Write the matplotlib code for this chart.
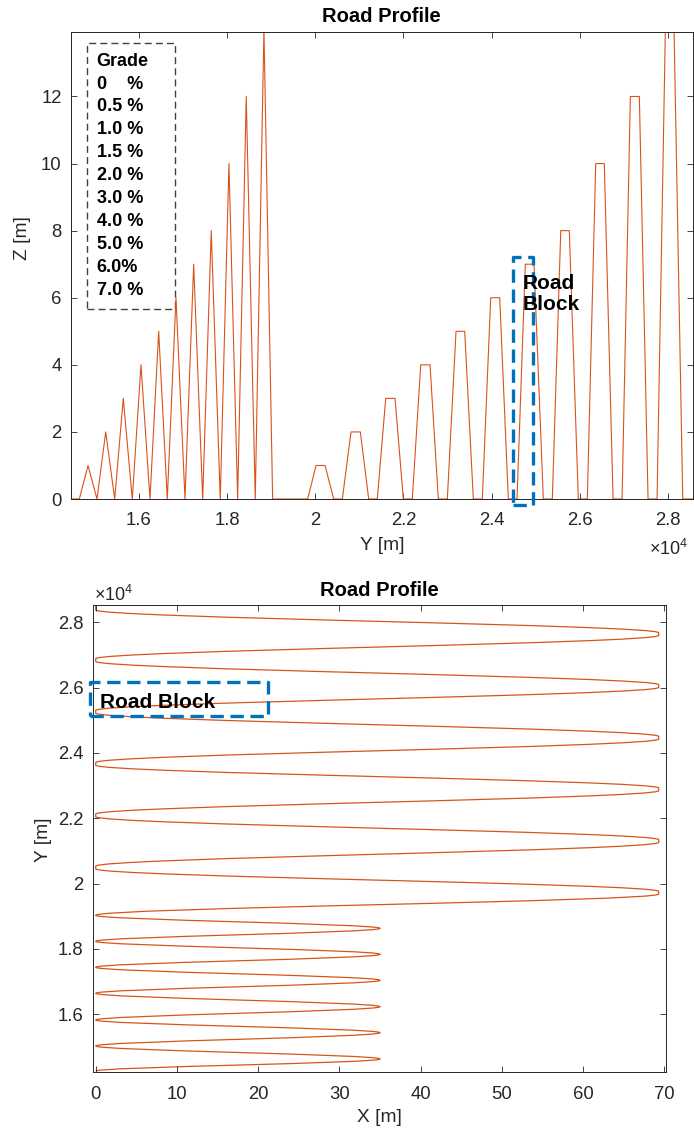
import matplotlib.pyplot as plt
from matplotlib.path import Path
from matplotlib.patches import PathPatch, Rectangle

plt.rcParams['font.family'] = ['Liberation Sans', 'DejaVu Sans']
plt.rcParams['mathtext.fontset'] = 'custom'
plt.rcParams['mathtext.rm'] = 'Liberation Sans'

ROAD = '#D95319'
BLUE = '#0072BD'
INK = '#262626'

# --- top plot: height profile along Y ---
profile_y = [14300, 14655, 14852, 15055, 15253, 15456, 15651, 15855, 16052, 16256,
             16453, 16648, 16845, 17049, 17246, 17450, 17644, 17848, 18045, 18242,
             18437, 18641, 18838, 19035,
             19830, 20018, 20222, 20419, 20614, 20811, 21022, 21212,
             21407, 21597, 21808, 21996, 22200, 22390, 22601, 22789,
             22993, 23190, 23387, 23582, 23786, 23976, 24180, 24375,
             24572, 24760, 24957, 25168, 25372, 25563, 25757, 25961,
             26165, 26355, 26550, 26748, 26952, 27140, 27344, 27541,
             27745, 27933, 28130, 28327, 28567]
profile_z = [0, 0, 1, 0, 2, 0, 3, 0, 4, 0,
             5, 0, 6, 0, 7, 0, 8, 0, 10, 0,
             12, 0, 14, 0,
             0, 1, 1, 0, 0, 2, 2, 0,
             0, 3, 3, 0, 0, 4, 4, 0,
             0, 5, 5, 0, 0, 6, 6, 0,
             0, 7, 7, 0, 0, 8, 8, 0,
             0, 10, 10, 0, 0, 12, 12, 0,
             0, 14, 14, 0, 0]

grade_labels = ['Grade', '0    %', '0.5 %', '1.0 %', '1.5 %', '2.0 %',
                '3.0 %', '4.0 %', '5.0 %', '6.0%', '7.0 %']

# --- bottom plot: road plan view, turning points ---
turn_x = [0, 35, 0, 35, 0, 35, 0, 35, 0, 35, 0, 35, 0,
          69.3, 0, 69.3, 0, 69.3, 0, 69.3, 0, 69.3, 0, 69.3, 0]
turn_y = [14260, 14632, 15030, 15437, 15826, 16233, 16643, 17041, 17439, 17837,
          18235, 18632, 19030,
          19722, 20494, 21305, 22091, 22887, 23668, 24467, 25263, 26049, 26845,
          27641, 28380]
turn_flat = [0] * 13 + [40] * 11 + [0]
end_y = 28530

y_ticks_m = [16000, 18000, 20000, 22000, 24000, 26000, 28000]
y_tick_labels = ['1.6', '1.8', '2', '2.2', '2.4', '2.6', '2.8']
z_ticks = [0, 2, 4, 6, 8, 10, 12]
x_ticks = [0, 10, 20, 30, 40, 50, 60, 70]

fig = plt.figure(figsize=(6.94, 11.29), dpi=100)
ax1 = fig.add_axes([0.1019, 0.5580, 0.8967, 0.4136])
ax2 = fig.add_axes([0.1336, 0.0505, 0.8261, 0.4136])


def style(ax, xpad, ypad):
    ax.tick_params(direction='in', top=True, right=True, length=4, width=0.6,
                   colors=INK, labelsize=13.3)
    ax.tick_params(axis='x', pad=xpad)
    ax.tick_params(axis='y', pad=ypad)
    for s in ax.spines.values():
        s.set_color(INK)
        s.set_linewidth(0.7)


# top
ax1.plot(profile_y, profile_z, color=ROAD, lw=0.8)
ax1.set_xlim(14460, 28560)
ax1.set_ylim(0, 13.92)
ax1.set_xticks(y_ticks_m)
ax1.set_xticklabels(y_tick_labels)
ax1.set_yticks(z_ticks)
style(ax1, 9, 6.5)
ax1.set_xlabel('Y [m]', fontsize=13.8, color=INK, va='center')
ax1.xaxis.set_label_coords(0.5, -0.1006)
ax1.set_ylabel('Z [m]', fontsize=13.8, color=INK, va='center')
ax1.yaxis.set_label_coords(-0.0767, 0.559)
ax1.text(0.5, 1.0343, 'Road Profile', transform=ax1.transAxes, ha='center',
         va='center', fontsize=14.5, fontweight='bold')
ax1.text(0.9293, -0.1199, r'$\mathregular{\times10^4}$', transform=ax1.transAxes,
         ha='left', va='baseline', fontsize=13, color=INK)

# grade box
ax1.add_patch(Rectangle((14822, 5.66), 16823 - 14822, 13.59 - 5.66, fill=False,
                        ec='#404040', lw=1.0, ls=(0, (5, 3)), clip_on=False))
for i, lab in enumerate(grade_labels):
    zc = (499 - 61 - 22.9 * i) / 33.56
    ax1.text(15048, zc, lab, ha='left', va='center', fontsize=13,
             fontweight='bold')

# road block on top plot
ax1.add_patch(Rectangle((24475, -0.18), 24942 - 24475, 7.22 + 0.18, fill=False,
                        ec=BLUE, lw=2.4, ls=(0, (4, 2)), joinstyle='round',
                        clip_on=False, zorder=5))
ax1.text(24708, 6.12, 'Road\nBlock', ha='left', va='center', fontsize=15,
         fontweight='bold', linespacing=1.15, zorder=6)

# bottom: build road path through the turning points
verts = [(turn_x[0], turn_y[0])]
codes = [Path.MOVETO]
c = 0.35
for i in range(len(turn_x) - 1):
    y0 = turn_y[i] + turn_flat[i]
    y1 = turn_y[i + 1] - turn_flat[i + 1]
    d = y1 - y0
    verts += [(turn_x[i], y0 + c * d), (turn_x[i + 1], y1 - c * d),
              (turn_x[i + 1], y1)]
    codes += [Path.CURVE4] * 3
    if turn_flat[i + 1] > 0:
        verts.append((turn_x[i + 1], turn_y[i + 1] + turn_flat[i + 1]))
        codes.append(Path.LINETO)
verts.append((turn_x[-1], end_y))
codes.append(Path.LINETO)
ax2.add_patch(PathPatch(Path(verts, codes), fill=False, ec=ROAD, lw=0.9))

ax2.set_xlim(-0.37, 70.2)
ax2.set_ylim(14234, 28530)
ax2.set_xticks(x_ticks)
ax2.set_yticks(y_ticks_m)
ax2.set_yticklabels(y_tick_labels)
style(ax2, 10, 6.8)
ax2.set_xlabel('X [m]', fontsize=13.8, color=INK, va='center')
ax2.xaxis.set_label_coords(0.5, -0.0985)
ax2.set_ylabel('Y [m]', fontsize=13.8, color=INK, va='center')
ax2.yaxis.set_label_coords(-0.0867, 0.4968)
ax2.text(0.5, 1.0321, 'Road Profile', transform=ax2.transAxes, ha='center',
         va='center', fontsize=14.5, fontweight='bold')
ax2.text(0.0023, 1.0086, r'$\mathregular{\times10^4}$', transform=ax2.transAxes,
         ha='left', va='baseline', fontsize=13, color=INK)

ax2.add_patch(Rectangle((-0.70, 25140), 21.26 + 0.70, 26181 - 25140, fill=False,
                        ec=BLUE, lw=2.4, ls=(0, (4, 2)), joinstyle='round',
                        clip_on=False, zorder=5))
ax2.text(0.53, 25560, 'Road Block', ha='left', va='center', fontsize=15,
         fontweight='bold', zorder=6)

fig.savefig('out.png', dpi=100)
